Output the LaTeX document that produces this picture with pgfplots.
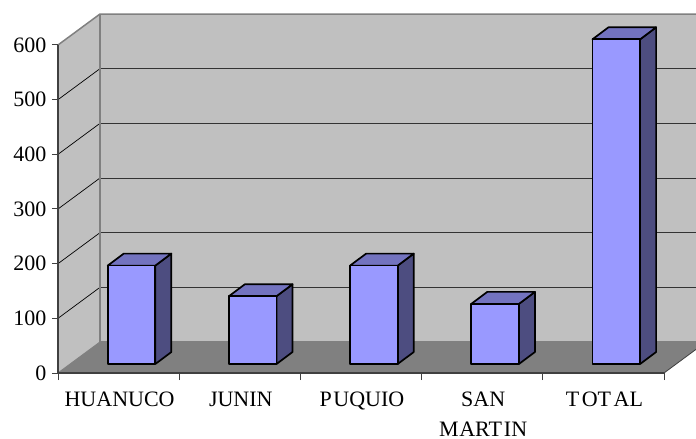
\documentclass[border=0pt]{standalone}
\usepackage{fontspec}
\setmainfont{Liberation Serif}
\usepackage{pgfplots}
\pgfplotsset{compat=1.18}

\definecolor{wallgray}{HTML}{C0C0C0}
\definecolor{floorgray}{HTML}{808080}
\definecolor{edgegray}{HTML}{808080}
\definecolor{axisgray}{HTML}{404040}
\definecolor{barfront}{HTML}{9999FF}
\definecolor{bartop}{HTML}{7373BF}
\definecolor{barside}{HTML}{4D4D80}

% Depth of the chart box, in axis units
\newcommand\depthx{0.3465}
\newcommand\depthy{56.7}
\newcommand\rightedge{5.264}

% Fixed first-line height, so that every category label shares one baseline
\newcommand\capline{\rule{0pt}{15pt}}

% One gridline: diagonal on the left wall, then straight along the back wall
\newcommand\gridline[1]{%
  \pgfmathsetmacro\gy{#1+\depthy}%
  \addplot[forget plot, no markers, draw=black, line width=0.7pt]
    coordinates {(0,#1) (\depthx,\gy)};
  \addplot[forget plot, no markers, draw=black!80, line width=1pt]
    coordinates {(\depthx,\gy) (\rightedge,\gy)};
}

% One cuboid bar: category position and value
\newcommand\barbox[2]{%
  \pgfmathsetmacro\xa{#1+0.3+0.11}%
  \pgfmathsetmacro\xb{\xa+0.393}%
  \pgfmathsetmacro\xc{\xa+0.132}%
  \pgfmathsetmacro\xd{\xb+0.132}%
  \pgfmathsetmacro\ya{16.46}%
  \pgfmathsetmacro\yb{#2+16.46}%
  \pgfmathsetmacro\yc{\ya+21.9}%
  \pgfmathsetmacro\yd{\yb+21.9}%
  \addplot[forget plot, no markers, fill=barside, draw=black, line width=1.7pt, line join=round]
    coordinates {(\xb,\ya) (\xd,\yc) (\xd,\yd) (\xb,\yb)} -- cycle;
  \addplot[forget plot, no markers, fill=bartop, draw=black, line width=1.7pt, line join=round]
    coordinates {(\xa,\yb) (\xc,\yd) (\xd,\yd) (\xb,\yb)} -- cycle;
  \addplot[forget plot, no markers, fill=barfront, draw=black, line width=1.7pt, line join=round]
    coordinates {(\xa,\ya) (\xb,\ya) (\xb,\yb) (\xa,\yb)} -- cycle;
}

\begin{document}
\begin{tikzpicture}
\path[use as bounding box] (0,0) rectangle (696pt,439pt);
\begin{axis}[
  at={(58pt,66pt)}, anchor=south west,
  scale only axis, width=606pt, height=328pt,
  xmin=0, xmax=5, ymin=0, ymax=600,
  clip=false,
  axis on top,
  axis x line*=bottom, axis y line*=left,
  axis line style={-, draw=axisgray, line width=1.2pt},
  ytick={0,100,...,600},
  xtick={0.5,1.5,2.5,3.5,4.5},
  xticklabels={\capline HUANUCO,\capline JUNIN,\capline P\kern1.5pt UQUIO,\capline SAN\\M\kern0.5pt ART\kern2pt IN,\capline T\kern2.5pt OT\kern2.5pt AL},
  minor xtick={0,1,2,3,4,5},
  tick align=outside,
  major tick length=6pt,
  minor tick length=7pt,
  tick style={draw=axisgray, line width=1pt},
  minor tick style={draw=axisgray, line width=1pt},
  major x tick style={draw=none},
  /pgf/number format/assume math mode=true,
  tick label style={font=\fontsize{22}{30}\selectfont, text=black},
  xticklabel style={align=center, anchor=north, inner sep=0pt, yshift=-12pt, xshift=1pt},
  yticklabel style={anchor=east, xshift=-2pt},
]
  % walls and floor
  \addplot[forget plot, no markers, fill=wallgray, draw=none]
    coordinates {(\depthx,\depthy) (\rightedge,\depthy) (\rightedge,656.7) (\depthx,656.7)} -- cycle;
  \addplot[forget plot, no markers, fill=wallgray, draw=none]
    coordinates {(0,0) (\depthx,\depthy) (\depthx,656.7) (0,600)} -- cycle;
  \addplot[forget plot, no markers, fill=floorgray, draw=none]
    coordinates {(0,0) (\depthx,\depthy) (\rightedge,\depthy) (\rightedge,43.2) (5,0)} -- cycle;

  % gridlines
  \gridline{100}
  \gridline{200}
  \gridline{300}
  \gridline{400}
  \gridline{500}

  % box edges
  \addplot[forget plot, no markers, draw=edgegray, line width=1.5pt]
    coordinates {(0,600) (\depthx,656.7) (\rightedge,656.7)};
  \addplot[forget plot, no markers, draw=edgegray, line width=1.5pt]
    coordinates {(\depthx,656.7) (\depthx,\depthy) (\rightedge,\depthy)};
  \addplot[forget plot, no markers, draw=edgegray, line width=1pt]
    coordinates {(0,0) (\depthx,\depthy)};
  \addplot[forget plot, no markers, draw=axisgray, line width=0.8pt]
    coordinates {(5,0) (\rightedge,43.2)};

  % bars
  \barbox{0}{180}
  \barbox{1}{124}
  \barbox{2}{180}
  \barbox{3}{110}
  \barbox{4}{594}
\end{axis}
\end{tikzpicture}
\end{document}
